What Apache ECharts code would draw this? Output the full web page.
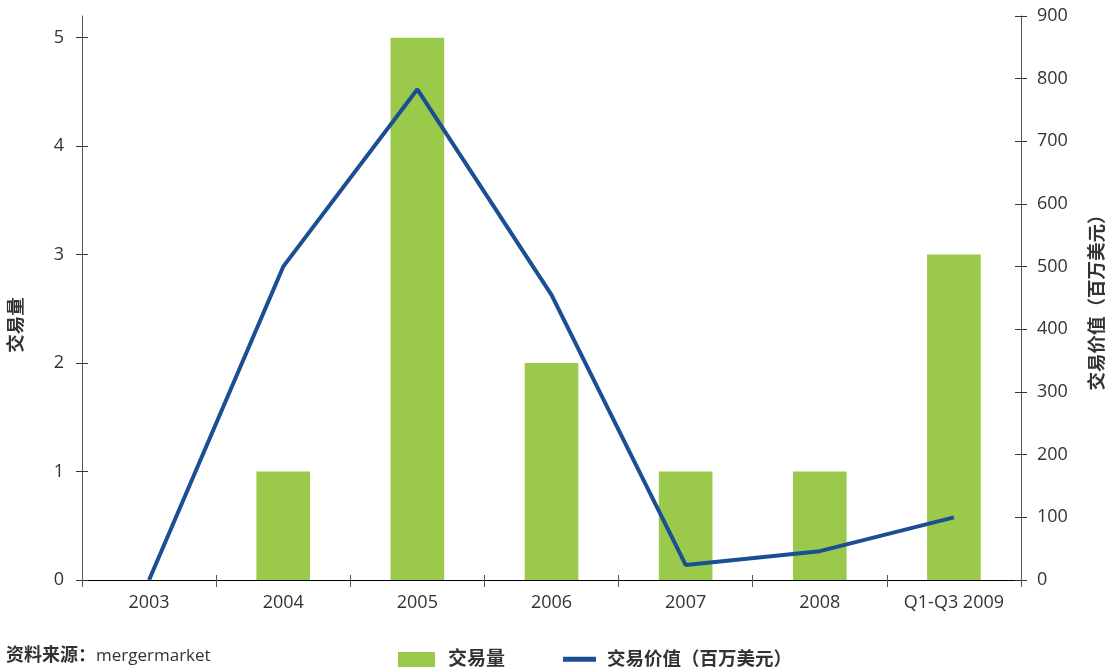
<!DOCTYPE html>
<html><head><meta charset="utf-8">
<script src="https://cdn.jsdelivr.net/npm/echarts@6/dist/echarts.min.js"></script>
<style>html,body{margin:0;padding:0;background:#fff}#c{width:1115px;height:671px}</style>
</head><body><div id="c"></div>
<script>
const categories = ['2003','2004','2005','2006','2007','2008','Q1-Q3 2009'];
const dealCount = [0,1,5,2,1,1,3];
const dealValue = [0,500,783,455,24,46,100];
const leftTicks = [0,1,2,3,4,5];
const rightTicks = [0,100,200,300,400,500,600,700,800,900];
const FONT = '"Open Sans","Noto Sans CJK SC",sans-serif';
const chart = echarts.init(document.getElementById('c'));
const txt = {color:'#333', fontSize:18, fontFamily:FONT};
const nameStyle = {fontSize:18.5, fontWeight:'bold', color:'#333', fontFamily:FONT};
chart.setOption({
  animation:false,
  grid:{left:82, right:94, top:16, bottom:91, containLabel:false, outerBoundsMode:'none'},
  legend:[
    {data:[{name:'交易量', icon:'rect'}], left:393, top:645, itemWidth:37, itemHeight:15,
     textStyle:{fontSize:19, fontWeight:'bold', color:'#333', fontFamily:FONT, padding:[0,0,0,8]}},
    {data:[{name:'交易价值（百万美元）', icon:'rect'}], left:558, top:645, itemWidth:33, itemHeight:5,
     textStyle:{fontSize:18.5, fontWeight:'bold', color:'#333', fontFamily:FONT, padding:[0,0,0,6]}}
  ],
  graphic:[
    {type:'text', left:6, top:647, style:{
      rich:{b:{fontSize:18, fontWeight:'bold', fill:'#333', fontFamily:FONT}, r:{fontSize:17, fill:'#333', fontFamily:FONT}},
      text:'{b|资料来源：}{r|mergermarket}'}},
    {type:'text', x:17, y:325, rotation:Math.PI/2, style:{
      text:'交易量', fontSize:18.5, fontWeight:'bold', fill:'#333', fontFamily:FONT,
      align:'center', verticalAlign:'middle'}}
  ],
  xAxis:[
    {type:'category', data:categories,
     axisLine:{lineStyle:{color:'#000', width:1.2}},
     axisTick:{show:true, length:7, lineStyle:{color:'#555'}},
     axisLabel:Object.assign({margin:14}, txt)},
    {type:'category', data:categories, position:'bottom',
     axisLine:{show:false},
     axisTick:{show:true, inside:true, length:5, lineStyle:{color:'#555'}},
     axisLabel:{show:false}}
  ],
  yAxis:[
    {type:'value', min:0, max:5.2, interval:1, position:'left',
     axisLine:{show:true, lineStyle:{color:'#555'}},
     axisTick:{show:true, length:6, customValues:leftTicks, lineStyle:{color:'#333'}},
     axisLabel:Object.assign({margin:18, customValues:leftTicks}, txt),
     splitLine:{show:false}},
    {type:'value', min:0, max:900, interval:100, position:'right',
     name:'交易价值（百万美元）', nameLocation:'middle', nameGap:67, nameRotate:90, nameTextStyle:nameStyle,
     axisLine:{show:true, lineStyle:{color:'#555'}},
     axisTick:{show:true, length:6, customValues:rightTicks, lineStyle:{color:'#333'}},
     axisLabel:Object.assign({margin:16, customValues:rightTicks}, txt),
     splitLine:{show:false}},
    {type:'value', min:0, max:5.2, position:'left', axisLine:{show:false},
     axisTick:{show:true, inside:true, length:6, customValues:leftTicks, lineStyle:{color:'#333'}},
     axisLabel:{show:false}, splitLine:{show:false}},
    {type:'value', min:0, max:900, position:'right', axisLine:{show:false},
     axisTick:{show:true, inside:true, length:6, customValues:rightTicks, lineStyle:{color:'#333'}},
     axisLabel:{show:false}, splitLine:{show:false}}
  ],
  series:[
    {name:'交易量', type:'bar', yAxisIndex:0, data:dealCount, barWidth:'40%',
     itemStyle:{color:'#9BC94B'}},
    {name:'交易价值（百万美元）', type:'line', yAxisIndex:1, data:dealValue,
     showSymbol:false, symbol:'none', lineStyle:{color:'#1A4F94', width:4}, itemStyle:{color:'#1A4F94'}}
  ]
});
</script></body></html>
